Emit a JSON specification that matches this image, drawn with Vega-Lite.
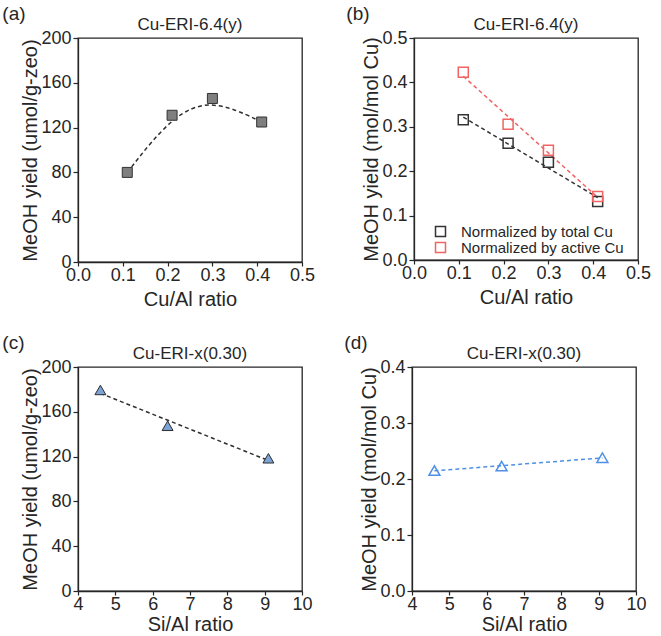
{
  "$schema": "https://vega.github.io/schema/vega-lite/v6.json",
  "padding": {"left": 2, "top": 5, "right": 2, "bottom": 0},
  "background": "white",
  "datasets": {
    "cu_series_mass": [
      {"cu_al": 0.11, "yield": 80},
      {"cu_al": 0.21, "yield": 131},
      {"cu_al": 0.30, "yield": 146},
      {"cu_al": 0.41, "yield": 125}
    ],
    "cu_series_molar": [
      {"cu_al": 0.11, "yield": 0.316, "basis": "Normalized by total Cu"},
      {"cu_al": 0.21, "yield": 0.263, "basis": "Normalized by total Cu"},
      {"cu_al": 0.30, "yield": 0.220, "basis": "Normalized by total Cu"},
      {"cu_al": 0.41, "yield": 0.132, "basis": "Normalized by total Cu"},
      {"cu_al": 0.11, "yield": 0.423, "basis": "Normalized by active Cu"},
      {"cu_al": 0.21, "yield": 0.306, "basis": "Normalized by active Cu"},
      {"cu_al": 0.30, "yield": 0.247, "basis": "Normalized by active Cu"},
      {"cu_al": 0.41, "yield": 0.143, "basis": "Normalized by active Cu"}
    ],
    "si_series_mass": [
      {"si_al": 4.6, "yield": 179.5},
      {"si_al": 6.4, "yield": 147.5},
      {"si_al": 9.1, "yield": 118.5}
    ],
    "si_series_molar": [
      {"si_al": 4.6, "yield": 0.215},
      {"si_al": 6.4, "yield": 0.223},
      {"si_al": 9.1, "yield": 0.238}
    ]
  },
  "vconcat": [
    {
      "spacing": 30,
      "hconcat": [
        {
          "title": {"text": "(a)", "anchor": "start", "frame": "bounds", "fontSize": 19, "dx": -18, "offset": -9},
          "vconcat": [
            {
              "title": "Cu-ERI-6.4(y)",
              "width": 224,
              "height": 224,
              "data": {"name": "cu_series_mass"},
              "encoding": {
                "x": {"field": "cu_al", "type": "quantitative", "title": "Cu/Al ratio",
                      "scale": {"domain": [0, 0.5], "nice": false},
                      "axis": {"values": [0, 0.1, 0.2, 0.3, 0.4, 0.5], "format": ".1f"}},
                "y": {"field": "yield", "type": "quantitative", "title": "MeOH yield (umol/g-zeo)",
                      "scale": {"domain": [0, 200], "nice": false},
                      "axis": {"values": [0, 40, 80, 120, 160, 200]}}
              },
              "layer": [
                {
                  "mark": {"type": "line", "interpolate": "basis", "color": "#2e2e2e", "strokeWidth": 1.5, "strokeDash": [4, 3]}
                },
                {
                  "mark": {"type": "point", "shape": "square", "filled": true, "size": 100, "fill": "#7f7f7f", "stroke": "#333333", "strokeWidth": 1, "opacity": 1}
                }
              ]
            }
          ]
        },
        {
          "title": {"text": "(b)", "anchor": "start", "frame": "bounds", "fontSize": 19, "dx": -15, "offset": -9},
          "resolve": {"legend": {"color": "independent"}},
          "vconcat": [
            {
              "title": "Cu-ERI-6.4(y)",
              "width": 224,
              "height": 222,
              "data": {"name": "cu_series_molar"},
              "encoding": {
                "x": {"field": "cu_al", "type": "quantitative", "title": "Cu/Al ratio",
                      "scale": {"domain": [0, 0.5], "nice": false},
                      "axis": {"values": [0, 0.1, 0.2, 0.3, 0.4, 0.5], "format": ".1f"}},
                "y": {"field": "yield", "type": "quantitative", "title": "MeOH yield (mol/mol Cu)",
                      "scale": {"domain": [0, 0.5], "nice": false},
                      "axis": {"values": [0, 0.1, 0.2, 0.3, 0.4, 0.5], "format": ".1f"}}
              },
              "layer": [
                {
                  "transform": [
                    {"filter": "datum.basis === 'Normalized by total Cu'"},
                    {"regression": "yield", "on": "cu_al", "extent": [0.11, 0.41]}
                  ],
                  "mark": {"type": "line", "color": "#333333", "strokeWidth": 1.5, "strokeDash": [4, 3]}
                },
                {
                  "transform": [
                    {"filter": "datum.basis === 'Normalized by active Cu'"},
                    {"regression": "yield", "on": "cu_al", "extent": [0.11, 0.41]}
                  ],
                  "mark": {"type": "line", "color": "#f06464", "strokeWidth": 1.5, "strokeDash": [4, 3]}
                },
                {
                  "mark": {"type": "point", "shape": "square", "filled": false, "size": 100, "strokeWidth": 1.5, "opacity": 1},
                  "encoding": {
                    "color": {"field": "basis", "type": "nominal",
                              "scale": {"domain": ["Normalized by total Cu", "Normalized by active Cu"], "range": ["#333333", "#f06464"]},
                              "legend": {"title": null, "orient": "bottom-left", "offset": 4, "padding": 0,
                                         "symbolType": "square", "symbolSize": 100, "symbolStrokeWidth": 1.5, "symbolFillColor": "transparent",
                                         "symbolOffset": 15,
                                         "labelFontSize": 15, "labelColor": "#262626", "labelOffset": 13, "rowPadding": -2, "labelLimit": 300}}
                  }
                }
              ]
            }
          ]
        }
      ]
    },
    {
      "spacing": 31,
      "hconcat": [
        {
          "title": {"text": "(c)", "anchor": "start", "frame": "bounds", "fontSize": 19, "dx": -18, "offset": -9},
          "vconcat": [
            {
              "title": "Cu-ERI-x(0.30)",
              "width": 224,
              "height": 224,
              "data": {"name": "si_series_mass"},
              "encoding": {
                "x": {"field": "si_al", "type": "quantitative", "title": "Si/Al ratio",
                      "scale": {"domain": [4, 10], "nice": false},
                      "axis": {"values": [4, 5, 6, 7, 8, 9, 10], "titlePadding": 1}},
                "y": {"field": "yield", "type": "quantitative", "title": "MeOH yield (umol/g-zeo)",
                      "scale": {"domain": [0, 200], "nice": false},
                      "axis": {"values": [0, 40, 80, 120, 160, 200]}}
              },
              "layer": [
                {
                  "transform": [{"regression": "yield", "on": "si_al", "extent": [4.6, 9.1]}],
                  "mark": {"type": "line", "color": "#2e2e2e", "strokeWidth": 1.5, "strokeDash": [4, 3]}
                },
                {
                  "mark": {"type": "point", "shape": "triangle-up", "filled": true, "size": 120, "fill": "#7ba3d6", "stroke": "#2e2e2e", "strokeWidth": 1, "opacity": 1}
                }
              ]
            }
          ]
        },
        {
          "title": {"text": "(d)", "anchor": "start", "frame": "bounds", "fontSize": 19, "dx": -15, "offset": -9},
          "vconcat": [
            {
              "title": "Cu-ERI-x(0.30)",
              "width": 224,
              "height": 224,
              "data": {"name": "si_series_molar"},
              "encoding": {
                "x": {"field": "si_al", "type": "quantitative", "title": "Si/Al ratio",
                      "scale": {"domain": [4, 10], "nice": false},
                      "axis": {"values": [4, 5, 6, 7, 8, 9, 10], "titlePadding": 1}},
                "y": {"field": "yield", "type": "quantitative", "title": "MeOH yield (mol/mol Cu)",
                      "scale": {"domain": [0, 0.4], "nice": false},
                      "axis": {"values": [0, 0.1, 0.2, 0.3, 0.4], "format": ".1f"}}
              },
              "layer": [
                {
                  "transform": [{"regression": "yield", "on": "si_al", "extent": [4.6, 9.1]}],
                  "mark": {"type": "line", "color": "#4f8fe6", "strokeWidth": 1.5, "strokeDash": [4, 3]}
                },
                {
                  "mark": {"type": "point", "shape": "triangle-up", "filled": false, "size": 120, "stroke": "#4f8fe6", "strokeWidth": 1.5, "opacity": 1}
                }
              ]
            }
          ]
        }
      ]
    }
  ],
  "spacing": 24,
  "config": {
    "font": "Liberation Sans",
    "view": {"stroke": "#262626", "strokeWidth": 1.3},
    "axis": {
      "grid": false, "domainColor": "#262626", "domainWidth": 1.3,
      "tickColor": "#262626", "tickWidth": 1.2, "tickSize": 4,
      "labelFont": "Liberation Sans", "labelFontSize": 18, "labelColor": "#262626",
      "labelFlush": false, "labelOverlap": false,
      "titleFont": "Liberation Sans", "titleFontSize": 20, "titleFontWeight": "normal", "titleColor": "#262626"
    },
    "axisX": {"labelPadding": 0, "titlePadding": 5},
    "axisY": {"labelPadding": 2, "tickSize": 5, "titlePadding": 0},
    "title": {"font": "Liberation Sans", "fontSize": 17, "fontWeight": "normal", "color": "#262626", "offset": -5}
  }
}
